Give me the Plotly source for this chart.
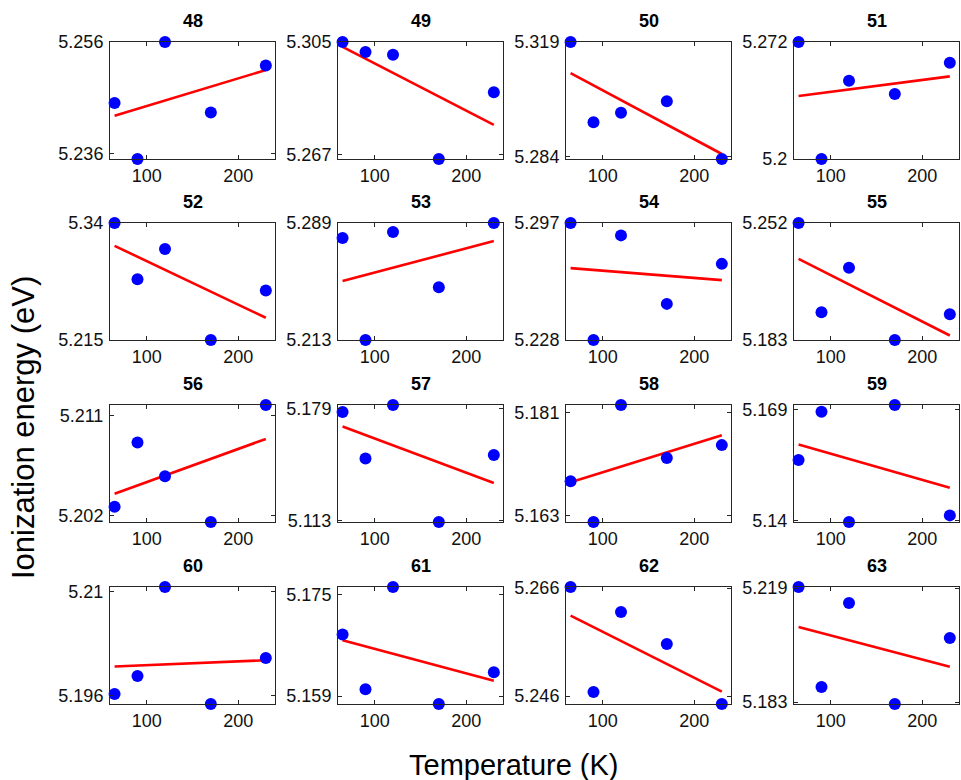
import plotly.graph_objects as go
import numpy as np

# ---------------- data ----------------
temperature = [65, 90, 120, 170, 230]          # K
panel_ids = [48, 49, 50, 51, 52, 53, 54, 55, 56, 57, 58, 59, 60, 61, 62, 63]

ie_48 = [5.2451, 5.2351, 5.2560, 5.2434, 5.2518]
ie_49 = [5.3050, 5.3016, 5.3007, 5.2656, 5.2881]
ie_50 = [5.3190, 5.2945, 5.2974, 5.3009, 5.2833]
ie_51 = [5.2720, 5.2000, 5.2482, 5.2400, 5.2593]
ie_52 = [5.3400, 5.2800, 5.3121, 5.2150, 5.2679]
ie_53 = [5.2792, 5.2130, 5.2832, 5.2473, 5.2890]
ie_54 = [5.2970, 5.2280, 5.2897, 5.2493, 5.2729]
ie_55 = [5.2520, 5.1994, 5.2256, 5.1830, 5.1982]
ie_56 = [5.20283, 5.20861, 5.20557, 5.20146, 5.21198]
ie_57 = [5.1770, 5.1496, 5.1812, 5.1120, 5.1516]
ie_58 = [5.16898, 5.16184, 5.18234, 5.17304, 5.17531]
ie_59 = [5.15576, 5.16839, 5.13957, 5.17013, 5.14130]
ie_60 = [5.19627, 5.19869, 5.21067, 5.19492, 5.20112]
ie_61 = [5.16873, 5.16010, 5.17625, 5.15775, 5.16276]
ie_62 = [5.26619, 5.24674, 5.26156, 5.25563, 5.24452]
ie_63 = [5.21932, 5.18774, 5.21426, 5.18237, 5.20321]

yticks_48 = ["5.236", "5.256"]
yticks_49 = ["5.267", "5.305"]
yticks_50 = ["5.284", "5.319"]
yticks_51 = ["5.2", "5.272"]
yticks_52 = ["5.215", "5.34"]
yticks_53 = ["5.213", "5.289"]
yticks_54 = ["5.228", "5.297"]
yticks_55 = ["5.183", "5.252"]
yticks_56 = ["5.202", "5.211"]
yticks_57 = ["5.113", "5.179"]
yticks_58 = ["5.163", "5.181"]
yticks_59 = ["5.14", "5.169"]
yticks_60 = ["5.196", "5.21"]
yticks_61 = ["5.159", "5.175"]
yticks_62 = ["5.246", "5.266"]
yticks_63 = ["5.183", "5.219"]

xtick_vals = [100, 200]
xtick_text = ["100", "200"]

series = [ie_48, ie_49, ie_50, ie_51, ie_52, ie_53, ie_54, ie_55,
          ie_56, ie_57, ie_58, ie_59, ie_60, ie_61, ie_62, ie_63]
ytick_labels = [yticks_48, yticks_49, yticks_50, yticks_51, yticks_52, yticks_53,
                yticks_54, yticks_55, yticks_56, yticks_57, yticks_58, yticks_59,
                yticks_60, yticks_61, yticks_62, yticks_63]

# ---------------- layout geometry (pixels) ----------------
W, H = 961, 780
col_left = [110, 338, 566, 794]
col_w = 165
row_top = [42, 223, 405, 587]
row_h = 117

FONT = "Liberation Sans, Arial, Helvetica, sans-serif"
AXC = "#262626"

fig = go.Figure()
layout = dict(
    template="none",
    width=W, height=H,
    margin=dict(l=0, r=0, t=0, b=0, pad=0, autoexpand=False),
    paper_bgcolor="white", plot_bgcolor="white",
    showlegend=False,
    font=dict(family=FONT, size=18, color="#000"),
)
annotations = []

for i, (pid, vals, ytl) in enumerate(zip(panel_ids, series, ytick_labels)):
    r, c = divmod(i, 4)
    k = i + 1
    xname = "x" if k == 1 else f"x{k}"
    yname = "y" if k == 1 else f"y{k}"
    xa = "xaxis" if k == 1 else f"xaxis{k}"
    ya = "yaxis" if k == 1 else f"yaxis{k}"

    x0 = col_left[c] / W
    x1 = (col_left[c] + col_w) / W
    y1 = 1 - row_top[r] / H
    y0 = 1 - (row_top[r] + row_h) / H

    slope, intercept = np.polyfit(temperature, vals, 1)
    fit = [slope * t + intercept for t in temperature]

    fig.add_trace(go.Scatter(
        x=temperature, y=fit, mode="lines",
        line=dict(color="#FF0000", width=2.6),
        xaxis=xname, yaxis=yname, hoverinfo="skip"))
    fig.add_trace(go.Scatter(
        x=temperature, y=vals, mode="markers",
        marker=dict(color="#0000FF", size=12, line=dict(width=0)),
        cliponaxis=False,
        xaxis=xname, yaxis=yname))

    layout[xa] = dict(
        domain=[x0, x1], anchor=yname, range=[60, 240], automargin=False,
        tickvals=xtick_vals, ticktext=xtick_text,
        ticks="inside", ticklen=4, tickcolor=AXC, tickwidth=1,
        showline=True, linecolor=AXC, linewidth=1, mirror="ticks",
        showgrid=False, zeroline=False,
        tickfont=dict(size=18, color="#111", family=FONT),
    )
    layout[ya] = dict(
        domain=[y0, y1], anchor=xname, range=[min(vals), max(vals)], automargin=False,
        tickvals=[float(v) for v in ytl], ticktext=ytl,
        ticks="inside", ticklen=4, tickcolor=AXC, tickwidth=1,
        showline=True, linecolor=AXC, linewidth=1, mirror="ticks",
        showgrid=False, zeroline=False, ticklabelstandoff=2,
        tickfont=dict(size=18, color="#111", family=FONT),
    )
    annotations.append(dict(
        text=f"<b>{pid}</b>", xref="paper", yref="paper",
        x=(x0 + x1) / 2, y=y1 + 21 / H, xanchor="center", yanchor="middle",
        showarrow=False, font=dict(size=18, color="#000", family=FONT)))

annotations.append(dict(
    text="Temperature (K)", xref="paper", yref="paper",
    x=514 / W, y=1 - 765 / H, xanchor="center", yanchor="middle",
    showarrow=False, font=dict(size=29, color="#000", family=FONT)))
annotations.append(dict(
    text="Ionization energy (eV)", xref="paper", yref="paper",
    x=23 / W, y=1 - 428 / H, xanchor="center", yanchor="middle", textangle=-90,
    showarrow=False, font=dict(size=31, color="#000", family=FONT)))

layout["annotations"] = annotations
fig.update_layout(**layout)

pin_script = (
    "var gd=document.getElementById('{plot_id}');"
    "gd.style.position='fixed';gd.style.top='0px';gd.style.left='0px';"
    "document.body.style.margin='0';document.body.style.overflow='hidden';"
    "document.documentElement.style.overflow='hidden';"
)
fig.write_html("out.html", config={"displayModeBar": False}, post_script=pin_script)
